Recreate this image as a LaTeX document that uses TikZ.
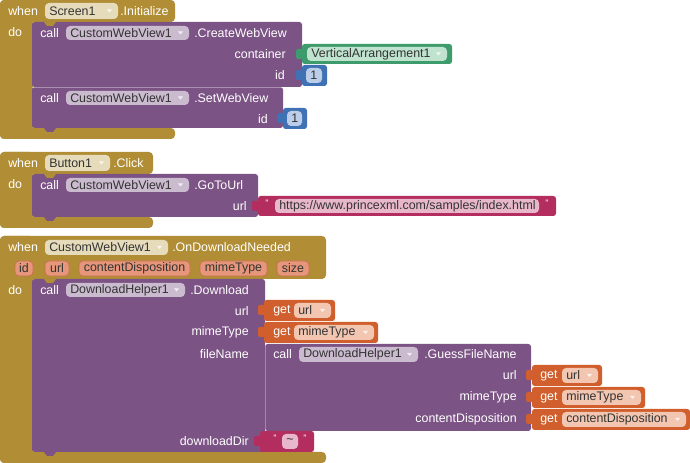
\documentclass[tikz,border=0pt]{standalone}
\usepackage{fontspec}
\setmainfont{Liberation Sans}
\definecolor{cgold}{HTML}{B18E35}
\definecolor{cpurp}{HTML}{7C5385}
\definecolor{cgreen}{HTML}{3E9B6C}
\definecolor{cblue}{HTML}{3F71B5}
\definecolor{cpink}{HTML}{B32D5E}
\definecolor{corange}{HTML}{D05F2D}
\definecolor{pgold}{HTML}{E6DCBB}
\definecolor{ppurp}{HTML}{CBBBCF}
\definecolor{pgreen}{HTML}{BFE3CE}
\definecolor{pblue}{HTML}{BBCDE8}
\definecolor{ppink}{HTML}{E8B8CA}
\definecolor{porange}{HTML}{F2C6B0}
\definecolor{pparam}{HTML}{E6967A}
\definecolor{pparamd}{HTML}{C8704F}
\definecolor{ptxt}{HTML}{333333}
\tikzset{
  lbl/.style={text=white, inner sep=0pt, font=\fontsize{9.3}{10}\selectfont},
  ptx/.style={text=ptxt, inner sep=0pt, font=\fontsize{9.3}{10}\selectfont},
  qt/.style={text=white, inner sep=0pt, font=\fontsize{7}{8}\selectfont},
  parp/.style={fill=pparam, draw=pparamd, line width=0.6pt, rounded corners=3pt},
}
% pill: name, x1, x2, y1, y2, fill, text, dropdown(1/0)
\newcommand\mypill[8]{%
  \fill[#6, rounded corners=3pt] (#2,#4) rectangle (#3,#5);
  \node[ptx, anchor=west] (#1) at ({#2+4},{(#4+#5)/2}) {#7};
  \ifnum#8=1
  \fill[white, opacity=0.75] ({#3-11},{(#4+#5)/2-1.5}) -- ({#3-6},{(#4+#5)/2-1.5}) -- ({#3-8.5},{(#4+#5)/2+1.5}) -- cycle;
  \fi}
% value block: x1,x2,y1,y2,color
\newcommand\vblk[5]{%
  \fill[#5, rounded corners=2pt] (#1,#3) rectangle (#2,#4);
  \fill[#5, rounded corners=1.5pt] ({#1-6},{#3+5}) rectangle ({#1+1},{#3+15});}
% statement tab at x, y, colour
\newcommand\sttab[3]{%
  \fill[#3] ({#1},{#2}) -- ({#1+3},{#2+4}) -- ({#1+9},{#2+4}) -- ({#1+12},{#2}) -- cycle;}
\begin{document}
\begin{tikzpicture}[x=0.75pt,y=-0.75pt]
\useasboundingbox (0,0) rectangle (690,463);
\fill[white] (0,0) rectangle (690,463);

% ================= Block 1: Screen1.Initialize =================
\fill[cgold, rounded corners=3pt] (0,0) rectangle (175,22);
\fill[cgold, rounded corners=3pt] (0,0) rectangle (33,139);
\fill[cgold, rounded corners=3pt] (0,128) rectangle (175,139);
\node[lbl, anchor=west] (w1) at (8,11) {when};
\mypill{s1}{45}{118}{3}{19}{pgold}{Screen1}{1}
\node[lbl, anchor=west] (i1) at (120,11) {.Initialize};
\node[lbl, anchor=west] (d1) at (8,32) {do};
% CreateWebView
\fill[cpurp, rounded corners=2pt] (32,22) rectangle (302,87);
\sttab{44}{22}{cgold}
\node[lbl, anchor=west] (c1) at (40,33) {call};
\mypill{cw1}{66}{189}{26}{40}{ppurp}{CustomWebView1}{1}
\node[lbl, anchor=west] (m1) at (194,33) {.CreateWebView};
\node[lbl, anchor=east] (lc1) at (286,54) {container};
\node[lbl, anchor=east] (li1) at (285,75) {id};
\vblk{302}{452}{44}{64}{cgreen}
\mypill{va}{307}{447}{47}{61}{pgreen}{VerticalArrangement1}{1}
\vblk{302}{327}{65}{86}{cblue}
\mypill{n1}{306}{322}{68}{83}{pblue}{1}{0}
% SetWebView
\fill[cpurp, rounded corners=2pt] (32,87) rectangle (283,128);
\draw[white, opacity=0.35] (32,87.3) -- (283,87.3);
\node[lbl, anchor=west] (c2) at (40,98) {call};
\mypill{cw2}{66}{189}{91}{105}{ppurp}{CustomWebView1}{1}
\node[lbl, anchor=west] (m2) at (194,98) {.SetWebView};
\node[lbl, anchor=east] (li2) at (268,119) {id};
\vblk{283}{307}{108}{129}{cblue}
\mypill{n2}{287}{302}{111}{126}{pblue}{1}{0}
\sttab{44}{128}{cpurp}

% ================= Block 2: Button1.Click =================
\fill[cgold, rounded corners=3pt] (0,152) rectangle (153,174);
\fill[cgold, rounded corners=3pt] (0,152) rectangle (33,228);
\fill[cgold, rounded corners=3pt] (0,217) rectangle (153,228);
\node[lbl, anchor=west] (w2) at (8,163) {when};
\mypill{b1}{45}{110}{155}{171}{pgold}{Button1}{1}
\node[lbl, anchor=west] (k2) at (113,163) {.Click};
\node[lbl, anchor=west] (d2) at (8,184) {do};
\fill[cpurp, rounded corners=2pt] (32,174) rectangle (258,217);
\sttab{44}{174}{cgold}
\node[lbl, anchor=west] (c3) at (40,185) {call};
\mypill{cw3}{66}{189}{178}{192}{ppurp}{CustomWebView1}{1}
\node[lbl, anchor=west] (m3) at (194,185) {.GoToUrl};
\node[lbl, anchor=east] (lu3) at (247,206) {url};
\vblk{258}{556}{196}{216}{cpink}
\node[qt] (q1) at (267,203) {"};
\mypill{u3}{275}{539}{199}{213}{ppink}{https://www.princexml.com/samples/index.html}{0}
\node[qt] (q2) at (547,203) {"};
\sttab{44}{217}{cpurp}

% ================= Block 3: CustomWebView1.OnDownloadNeeded =================
\fill[cgold, rounded corners=3pt] (0,236) rectangle (326,279);
\fill[cgold, rounded corners=3pt] (0,236) rectangle (33,463);
\fill[cgold, rounded corners=3pt] (0,452) rectangle (326,463);
\node[lbl, anchor=west] (w3) at (8,247) {when};
\mypill{cw4}{45}{168}{240}{255}{pgold}{CustomWebView1}{1}
\node[lbl, anchor=west] (e3) at (172,247) {.OnDownloadNeeded};
\draw[parp] (15,261) rectangle (33,276);
\node[ptx, anchor=center] (pid) at (24,268.5) {id};
\draw[parp] (45,261) rectangle (69,276);
\node[ptx, anchor=center] (purl) at (57,268.5) {url};
\draw[parp] (79,261) rectangle (190,276);
\node[ptx, anchor=center] (pcd) at (134.5,268.5) {contentDisposition};
\draw[parp] (200,261) rectangle (267,276);
\node[ptx, anchor=center] (pmt) at (233.5,268.5) {mimeType};
\draw[parp] (277,261) rectangle (309,276);
\node[ptx, anchor=center] (psz) at (293,268.5) {size};
\node[lbl, anchor=west] (d3) at (8,290) {do};
% Download
\fill[cpurp, rounded corners=2pt] (32,279) rectangle (265,452);
\sttab{44}{279}{cgold}
\node[lbl, anchor=west] (c4) at (40,290) {call};
\mypill{dh1}{66}{185}{283}{297}{ppurp}{DownloadHelper1}{1}
\node[lbl, anchor=west] (m4) at (190,290) {.Download};
\node[lbl, anchor=east] (lu4) at (249,311) {url};
\node[lbl, anchor=east] (lm4) at (249,332) {mimeType};
\node[lbl, anchor=east] (lf4) at (249,354) {fileName};
\node[lbl, anchor=east] (ld4) at (249,441) {downloadDir};
\vblk{264}{335}{300}{321}{corange}
\node[lbl, anchor=west] (g1) at (273,311) {get};
\mypill{gu1}{294}{331}{303}{318}{porange}{url}{1}
\vblk{264}{378}{322}{343}{corange}
\node[lbl, anchor=west] (g2) at (273,333) {get};
\mypill{gm1}{294}{374}{325}{340}{porange}{mimeType}{1}
% GuessFileName
\fill[cpurp, rounded corners=2pt] (265,344) rectangle (531,431);
\fill[cpurp, rounded corners=1.5pt] (259,349) rectangle (266,359);
\draw[white, opacity=0.3] (265.3,344) -- (265.3,431);
\node[lbl, anchor=west] (c5) at (273,354) {call};
\mypill{dh2}{299}{418}{347}{362}{ppurp}{DownloadHelper1}{1}
\node[lbl, anchor=west] (m5) at (424,354) {.GuessFileName};
\node[lbl, anchor=east] (lu5) at (517,375) {url};
\node[lbl, anchor=east] (lm5) at (517,397) {mimeType};
\node[lbl, anchor=east] (lc5) at (517,419) {contentDisposition};
\vblk{532}{602}{365}{386}{corange}
\node[lbl, anchor=west] (g3) at (540,375.5) {get};
\mypill{gu2}{562}{598}{368}{383}{porange}{url}{1}
\vblk{532}{645}{387}{408}{corange}
\node[lbl, anchor=west] (g4) at (540,397.5) {get};
\mypill{gm2}{562}{641}{390}{405}{porange}{mimeType}{1}
\vblk{532}{690}{409}{430}{corange}
\node[lbl, anchor=west] (g5) at (540,419.5) {get};
\mypill{gc2}{562}{686}{412}{427}{porange}{contentDisposition}{1}
% downloadDir text
\vblk{260}{314}{431}{452}{cpink}
\node[qt] (q3) at (275,438) {"};
\mypill{tl}{282}{298}{434}{449}{ppink}{\textasciitilde}{0}
\node[qt] (q4) at (305,438) {"};
\sttab{44}{452}{cpurp}
\end{tikzpicture}
\end{document}
